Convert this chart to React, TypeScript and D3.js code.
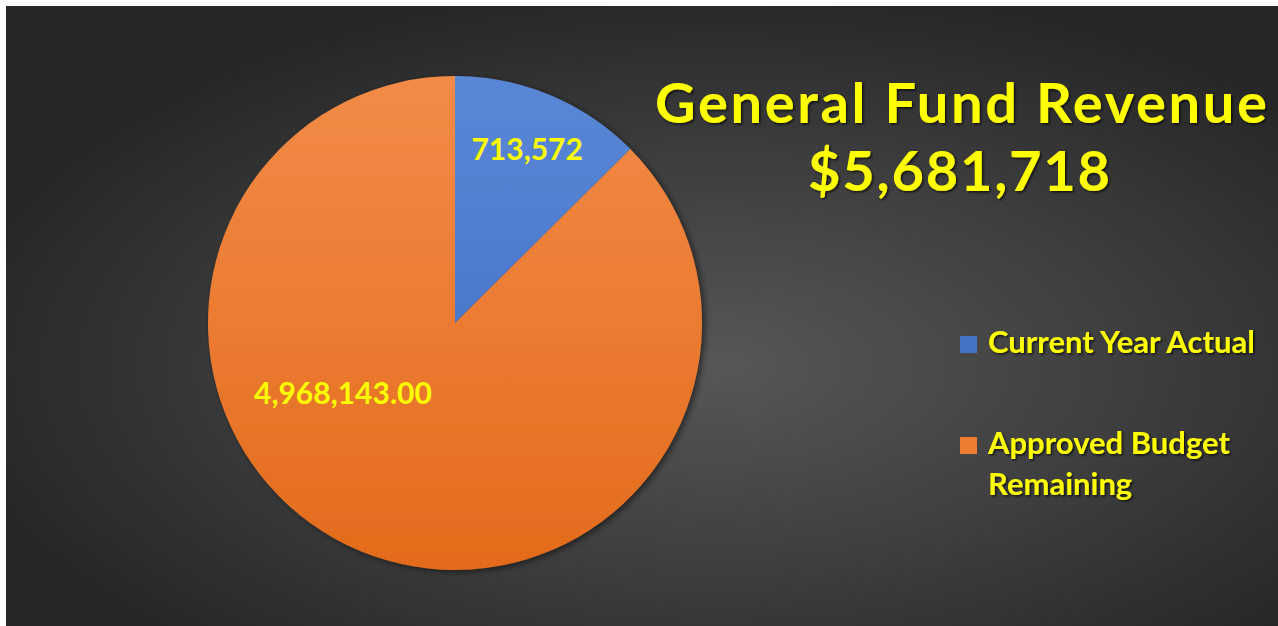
import React from "react";
import * as d3 from "d3";

const categories = ["Current Year Actual", "Approved Budget Remaining"];
const values = [713572, 4968143];
const valueLabels = ["713,572", "4,968,143.00"];
const legendLines = [["Current Year Actual"], ["Approved Budget", "Remaining"]];
const titleLines = ["General Fund Revenue", "$5,681,718"];

const W = 1278;
const H = 626;
const PIE = { cx: 455, cy: 323, r: 247 };
const YELLOW = "#FFFF00";
const FONT = "Lato, 'Open Sans', sans-serif";

// top / bottom of each slice's vertical gradient (Excel style)
const SLICE_FILLS = [
  ["#5A87D6", "#3D6AC0"],
  ["#F28B47", "#E36B1C"],
];
const LEGEND_SWATCH = ["#4472C4", "#ED7D31"];

export default function App() {
  const arcs = d3
    .pie<number>()
    .sort(null)
    .value((d) => d)(values);

  const arc = d3
    .arc<d3.PieArcDatum<number>>()
    .innerRadius(0)
    .outerRadius(PIE.r);

  // Excel "best fit" label spots: small slice on its centroid, big slice lower-left
  const labelPos = (a: d3.PieArcDatum<number>, i: number) => {
    if (i === 0) {
      const mid = (a.startAngle + a.endAngle) / 2;
      return d3.pointRadial(mid, PIE.r * 0.76);
    }
    return d3.pointRadial((238 * Math.PI) / 180, PIE.r * 0.535);
  };

  return (
    <svg
      width={W}
      height={H}
      style={{ position: "absolute", left: 0, top: 0, background: "#fff" }}
    >
      <defs>
        <radialGradient id="bg" cx="56%" cy="58%" r="62%">
          <stop offset="0%" stopColor="#575757" />
          <stop offset="55%" stopColor="#3d3d3d" />
          <stop offset="100%" stopColor="#262626" />
        </radialGradient>
        {SLICE_FILLS.map(([top, bottom], i) => (
          <linearGradient
            key={i}
            id={`slice${i}`}
            gradientUnits="userSpaceOnUse"
            x1={0}
            y1={-PIE.r}
            x2={0}
            y2={PIE.r}
          >
            <stop offset="0%" stopColor={top} />
            <stop offset="100%" stopColor={bottom} />
          </linearGradient>
        ))}
        <filter id="pieShadow" x="-10%" y="-10%" width="125%" height="125%">
          <feDropShadow dx="3" dy="2" stdDeviation="3" floodColor="#000" floodOpacity="0.5" />
        </filter>
        <filter id="textShadow" x="-5%" y="-20%" width="115%" height="150%">
          <feDropShadow dx="1.5" dy="1.5" stdDeviation="1" floodColor="#000" floodOpacity="0.7" />
        </filter>
      </defs>

      <rect x={6} y={6} width={W - 6} height={H - 6} fill="url(#bg)" />

      {/* Pie */}
      <g transform={`translate(${PIE.cx},${PIE.cy})`}>
        <g filter="url(#pieShadow)">
          {arcs.map((a, i) => (
            <path key={categories[i]} d={arc(a) || ""} fill={`url(#slice${i})`} />
          ))}
        </g>
        {arcs.map((a, i) => {
          const [x, y] = labelPos(a, i);
          return (
            <text
              key={`lbl-${i}`}
              x={x}
              y={y}
              dy="0.35em"
              textAnchor="middle"
              fontFamily={FONT}
              fontWeight={700}
              fontSize={30}
              fill={YELLOW}
            >
              {valueLabels[i]}
            </text>
          );
        })}
      </g>

      {/* Title */}
      <g filter="url(#textShadow)" fontFamily={FONT} fontWeight={700} fill={YELLOW} textAnchor="middle">
        <text x={961} y={123} fontSize={56} textLength={612} lengthAdjust="spacing">
          {titleLines[0]}
        </text>
        <text x={959} y={191} fontSize={56} textLength={302} lengthAdjust="spacing">
          {titleLines[1]}
        </text>
      </g>

      {/* Legend */}
      <g fontFamily={FONT} fontWeight={700} fontSize={31} fill={YELLOW}>
        {legendLines.map((lines, i) => {
          const top = i === 0 ? 353 : 454;
          return (
            <g key={categories[i]}>
              <rect x={960} y={top - 17} width={17} height={17} fill={LEGEND_SWATCH[i]} />
              <g filter="url(#textShadow)">
                {lines.map((line, j) => (
                  <text key={j} x={988} y={top + j * 41}>
                    {line}
                  </text>
                ))}
              </g>
            </g>
          );
        })}
      </g>
    </svg>
  );
}
